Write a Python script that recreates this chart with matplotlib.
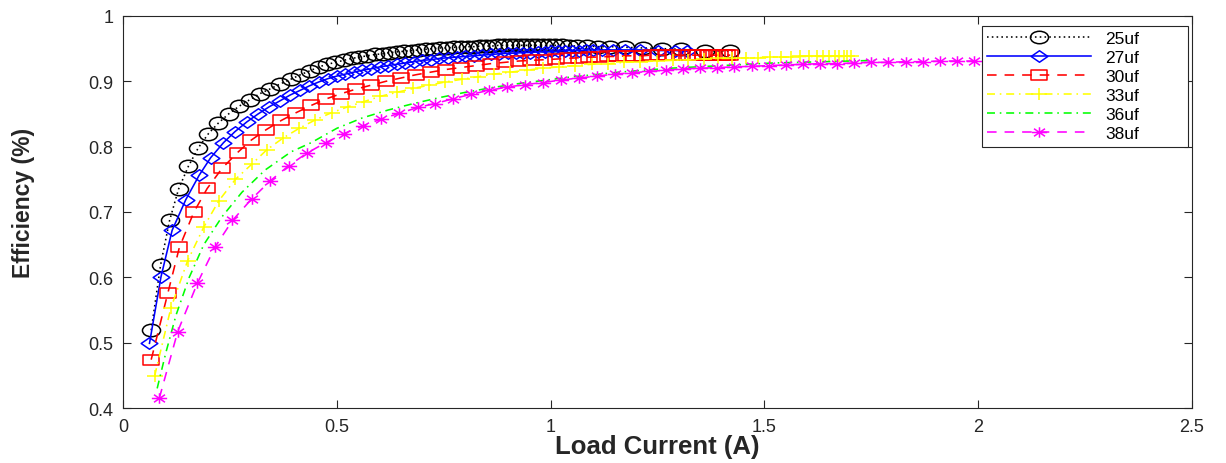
import matplotlib
matplotlib.use("Agg")
import matplotlib.pyplot as plt
from matplotlib.path import Path
from matplotlib.transforms import Affine2D
from matplotlib.markers import MarkerStyle

plt.rcParams['font.family'] = ['Liberation Sans', 'DejaVu Sans']

labels = ['25uf', '27uf', '30uf', '33uf', '36uf', '38uf']

x25 = [0.066,0.088,0.109,0.130,0.153,0.176,0.200,0.223,0.247,0.272,0.297,0.320,0.343,0.368,0.392,0.415,0.437,0.458,0.478,0.497,0.516,0.535,0.553,0.571,0.589,0.607,0.624,0.641,0.658,0.675,0.692,0.709,0.726,0.742,0.758,0.774,0.790,0.806,0.821,0.836,0.850,0.864,0.878,0.891,0.904,0.917,0.930,0.943,0.956,0.969,0.982,0.996,1.010,1.026,1.043,1.062,1.084,1.110,1.140,1.175,1.215,1.260,1.305,1.360,1.420]
y25 = [0.519,0.619,0.687,0.735,0.770,0.798,0.820,0.836,0.850,0.862,0.872,0.881,0.888,0.896,0.903,0.910,0.916,0.922,0.926,0.929,0.932,0.935,0.937,0.939,0.941,0.942,0.944,0.945,0.946,0.947,0.948,0.949,0.950,0.951,0.951,0.952,0.952,0.953,0.953,0.954,0.954,0.954,0.955,0.955,0.955,0.955,0.955,0.955,0.955,0.955,0.955,0.955,0.955,0.955,0.954,0.954,0.954,0.953,0.953,0.952,0.951,0.950,0.949,0.947,0.946]

x27 = [0.062,0.089,0.115,0.147,0.178,0.205,0.235,0.262,0.290,0.316,0.342,0.367,0.391,0.414,0.436,0.458,0.479,0.500,0.520,0.540,0.560,0.580,0.600,0.620,0.640,0.660,0.680,0.700,0.720,0.740,0.760,0.780,0.800,0.820,0.840,0.860,0.880,0.900,0.918,0.936,0.953,0.970,0.986,1.002,1.018,1.034,1.050,1.066,1.083,1.100,1.120,1.145,1.175,1.210,1.250,1.290,1.320]
y27 = [0.499,0.601,0.672,0.719,0.756,0.783,0.806,0.823,0.838,0.850,0.861,0.870,0.879,0.886,0.893,0.899,0.904,0.908,0.911,0.914,0.917,0.919,0.922,0.924,0.926,0.928,0.930,0.932,0.933,0.935,0.936,0.937,0.938,0.939,0.940,0.941,0.942,0.943,0.943,0.944,0.944,0.945,0.945,0.946,0.946,0.947,0.947,0.947,0.948,0.948,0.948,0.948,0.948,0.948,0.947,0.947,0.946]

x30 = [0.066,0.105,0.132,0.166,0.197,0.232,0.268,0.300,0.335,0.370,0.405,0.440,0.475,0.510,0.545,0.580,0.615,0.650,0.685,0.720,0.755,0.790,0.825,0.860,0.893,0.925,0.955,0.985,1.013,1.040,1.066,1.090,1.113,1.135,1.156,1.176,1.196,1.215,1.234,1.252,1.270,1.287,1.303,1.318,1.332,1.345,1.357,1.368,1.378,1.388,1.397,1.405,1.413,1.420]
y30 = [0.474,0.576,0.646,0.700,0.736,0.767,0.791,0.810,0.826,0.840,0.852,0.863,0.873,0.881,0.888,0.894,0.900,0.905,0.910,0.914,0.918,0.921,0.924,0.927,0.929,0.931,0.932,0.933,0.934,0.935,0.936,0.937,0.937,0.938,0.938,0.939,0.939,0.939,0.940,0.940,0.940,0.940,0.940,0.940,0.940,0.940,0.940,0.940,0.940,0.940,0.940,0.940,0.940,0.940]

x33 = [0.074,0.112,0.151,0.189,0.224,0.263,0.301,0.336,0.374,0.412,0.450,0.488,0.526,0.564,0.602,0.640,0.678,0.716,0.754,0.792,0.830,0.868,0.906,0.944,0.982,1.020,1.058,1.096,1.134,1.172,1.210,1.248,1.286,1.322,1.358,1.392,1.425,1.456,1.485,1.512,1.538,1.562,1.584,1.604,1.622,1.638,1.652,1.664,1.675,1.685,1.694,1.702]
y33 = [0.449,0.553,0.625,0.677,0.717,0.750,0.773,0.795,0.813,0.828,0.841,0.852,0.861,0.869,0.877,0.883,0.889,0.894,0.899,0.903,0.907,0.911,0.914,0.917,0.920,0.922,0.924,0.926,0.927,0.929,0.930,0.931,0.932,0.933,0.934,0.935,0.935,0.936,0.936,0.937,0.937,0.937,0.938,0.938,0.938,0.938,0.938,0.938,0.938,0.938,0.938,0.938]

x36 = [0.080,0.100,0.124,0.155,0.189,0.232,0.278,0.332,0.393,0.440,0.500,0.560,0.620,0.680,0.740,0.800,0.860,0.920,0.980,1.040,1.100,1.160,1.220,1.280,1.340,1.400,1.460,1.520,1.580,1.640,1.700,1.760]
y36 = [0.430,0.484,0.542,0.600,0.650,0.693,0.730,0.764,0.792,0.806,0.828,0.844,0.856,0.866,0.875,0.883,0.890,0.896,0.901,0.906,0.910,0.914,0.917,0.920,0.922,0.924,0.926,0.928,0.929,0.930,0.931,0.932]

x38 = [0.085,0.128,0.174,0.215,0.256,0.301,0.345,0.388,0.430,0.474,0.517,0.561,0.603,0.646,0.690,0.730,0.771,0.813,0.855,0.898,0.940,0.982,1.025,1.067,1.109,1.150,1.190,1.230,1.270,1.310,1.350,1.390,1.430,1.470,1.510,1.550,1.590,1.630,1.670,1.710,1.750,1.790,1.830,1.870,1.910,1.950,1.990]
y38 = [0.415,0.517,0.591,0.646,0.687,0.720,0.748,0.771,0.790,0.806,0.820,0.832,0.842,0.851,0.860,0.866,0.873,0.880,0.886,0.891,0.895,0.898,0.902,0.905,0.908,0.911,0.913,0.915,0.917,0.919,0.920,0.921,0.922,0.923,0.924,0.925,0.926,0.927,0.927,0.928,0.929,0.929,0.930,0.930,0.931,0.931,0.931]

xticks = [0, 0.5, 1, 1.5, 2, 2.5]
xticklabels = ['0', '0.5', '1', '1.5', '2', '2.5']
yticks = [0.4, 0.5, 0.6, 0.7, 0.8, 0.9, 1.0]
yticklabels = ['0.4', '0.5', '0.6', '0.7', '0.8', '0.9', '1']

# horizontally stretched marker shapes (the reference image is stretched)
sx = 1.45
circ = Path.unit_circle().transformed(Affine2D().scale(sx, 1))
diam = Path([(0, 1), (sx, 0), (0, -1), (-sx, 0), (0, 1)],
            [Path.MOVETO, Path.LINETO, Path.LINETO, Path.LINETO, Path.CLOSEPOLY])
sq = Path([(-sx, -1), (sx, -1), (sx, 1), (-sx, 1), (-sx, -1)],
          [Path.MOVETO, Path.LINETO, Path.LINETO, Path.LINETO, Path.CLOSEPOLY])
px = 1.2
plus = Path([(-px, 0), (px, 0), (0, -1), (0, 1)],
            [Path.MOVETO, Path.LINETO, Path.MOVETO, Path.LINETO])
d = 0.72
star = Path([(-sx, 0), (sx, 0), (0, -1), (0, 1), (-sx*d, -d), (sx*d, d), (-sx*d, d), (sx*d, -d)],
            [Path.MOVETO, Path.LINETO] * 4)

fig = plt.figure(figsize=(12.26, 4.64), dpi=100)
ax = fig.add_axes([0.1003, 0.1185, 0.872, 0.845])

series = [
    (x25, y25, (0, 0, 0), (0, (1, 2)), circ, 13),
    (x27, y27, (0, 0, 1), '-', diam, 12),
    (x30, y30, (1, 0, 0), (0, (6, 5)), sq, 11),
    (x33, y33, (1, 1, 0), (0, (5, 3, 1, 3)), plus, 11),
    (x36, y36, (0, 1, 0), (0, (5, 3, 1, 3)), None, 0),
    (x38, y38, (1, 0, 1), (0, (6, 5)), star, 11),
]
for (xs, ys, c, ls, mk, ms), lab in zip(series, labels):
    kw = {}
    if mk is not None:
        kw = dict(marker=MarkerStyle(mk), markersize=ms, markerfacecolor='none',
                  markeredgecolor=c, markeredgewidth=1.1)
    ax.plot(xs, ys, color=c, linestyle=ls, linewidth=1.15, label=lab, **kw)

ax.set_xlim(0, 2.5)
ax.set_ylim(0.4, 1.0)
ax.set_xticks(xticks)
ax.set_xticklabels(xticklabels)
ax.set_yticks(yticks)
ax.set_yticklabels(yticklabels)
ax.tick_params(direction='in', length=6, width=0.8, colors=(0.15, 0.15, 0.15),
               labelsize=13, top=True, right=True, pad=7)
for sp in ax.spines.values():
    sp.set_color((0.15, 0.15, 0.15))
    sp.set_linewidth(0.8)

ax.set_xlabel('Load Current (A)', fontsize=18.5, fontweight='bold', color=(0.15, 0.15, 0.15))
ax.xaxis.set_label_coords(0.5, -0.066)
ax.set_ylabel('Efficiency (%)', fontsize=16.5, fontweight='bold', color=(0.15, 0.15, 0.15))
ax.yaxis.set_label_coords(-0.082, 0.525)

leg = ax.legend(loc='upper left', bbox_to_anchor=(0.8036, 0.974, 0.1926, 0.0), mode='expand',
                borderaxespad=0, fontsize=12.5, handlelength=6.0, handletextpad=0.8,
                labelspacing=0.22, borderpad=0.3, fancybox=False, framealpha=1,
                edgecolor=(0.15, 0.15, 0.15))
leg.get_frame().set_linewidth(0.8)

fig.savefig('out.png', dpi=100)
